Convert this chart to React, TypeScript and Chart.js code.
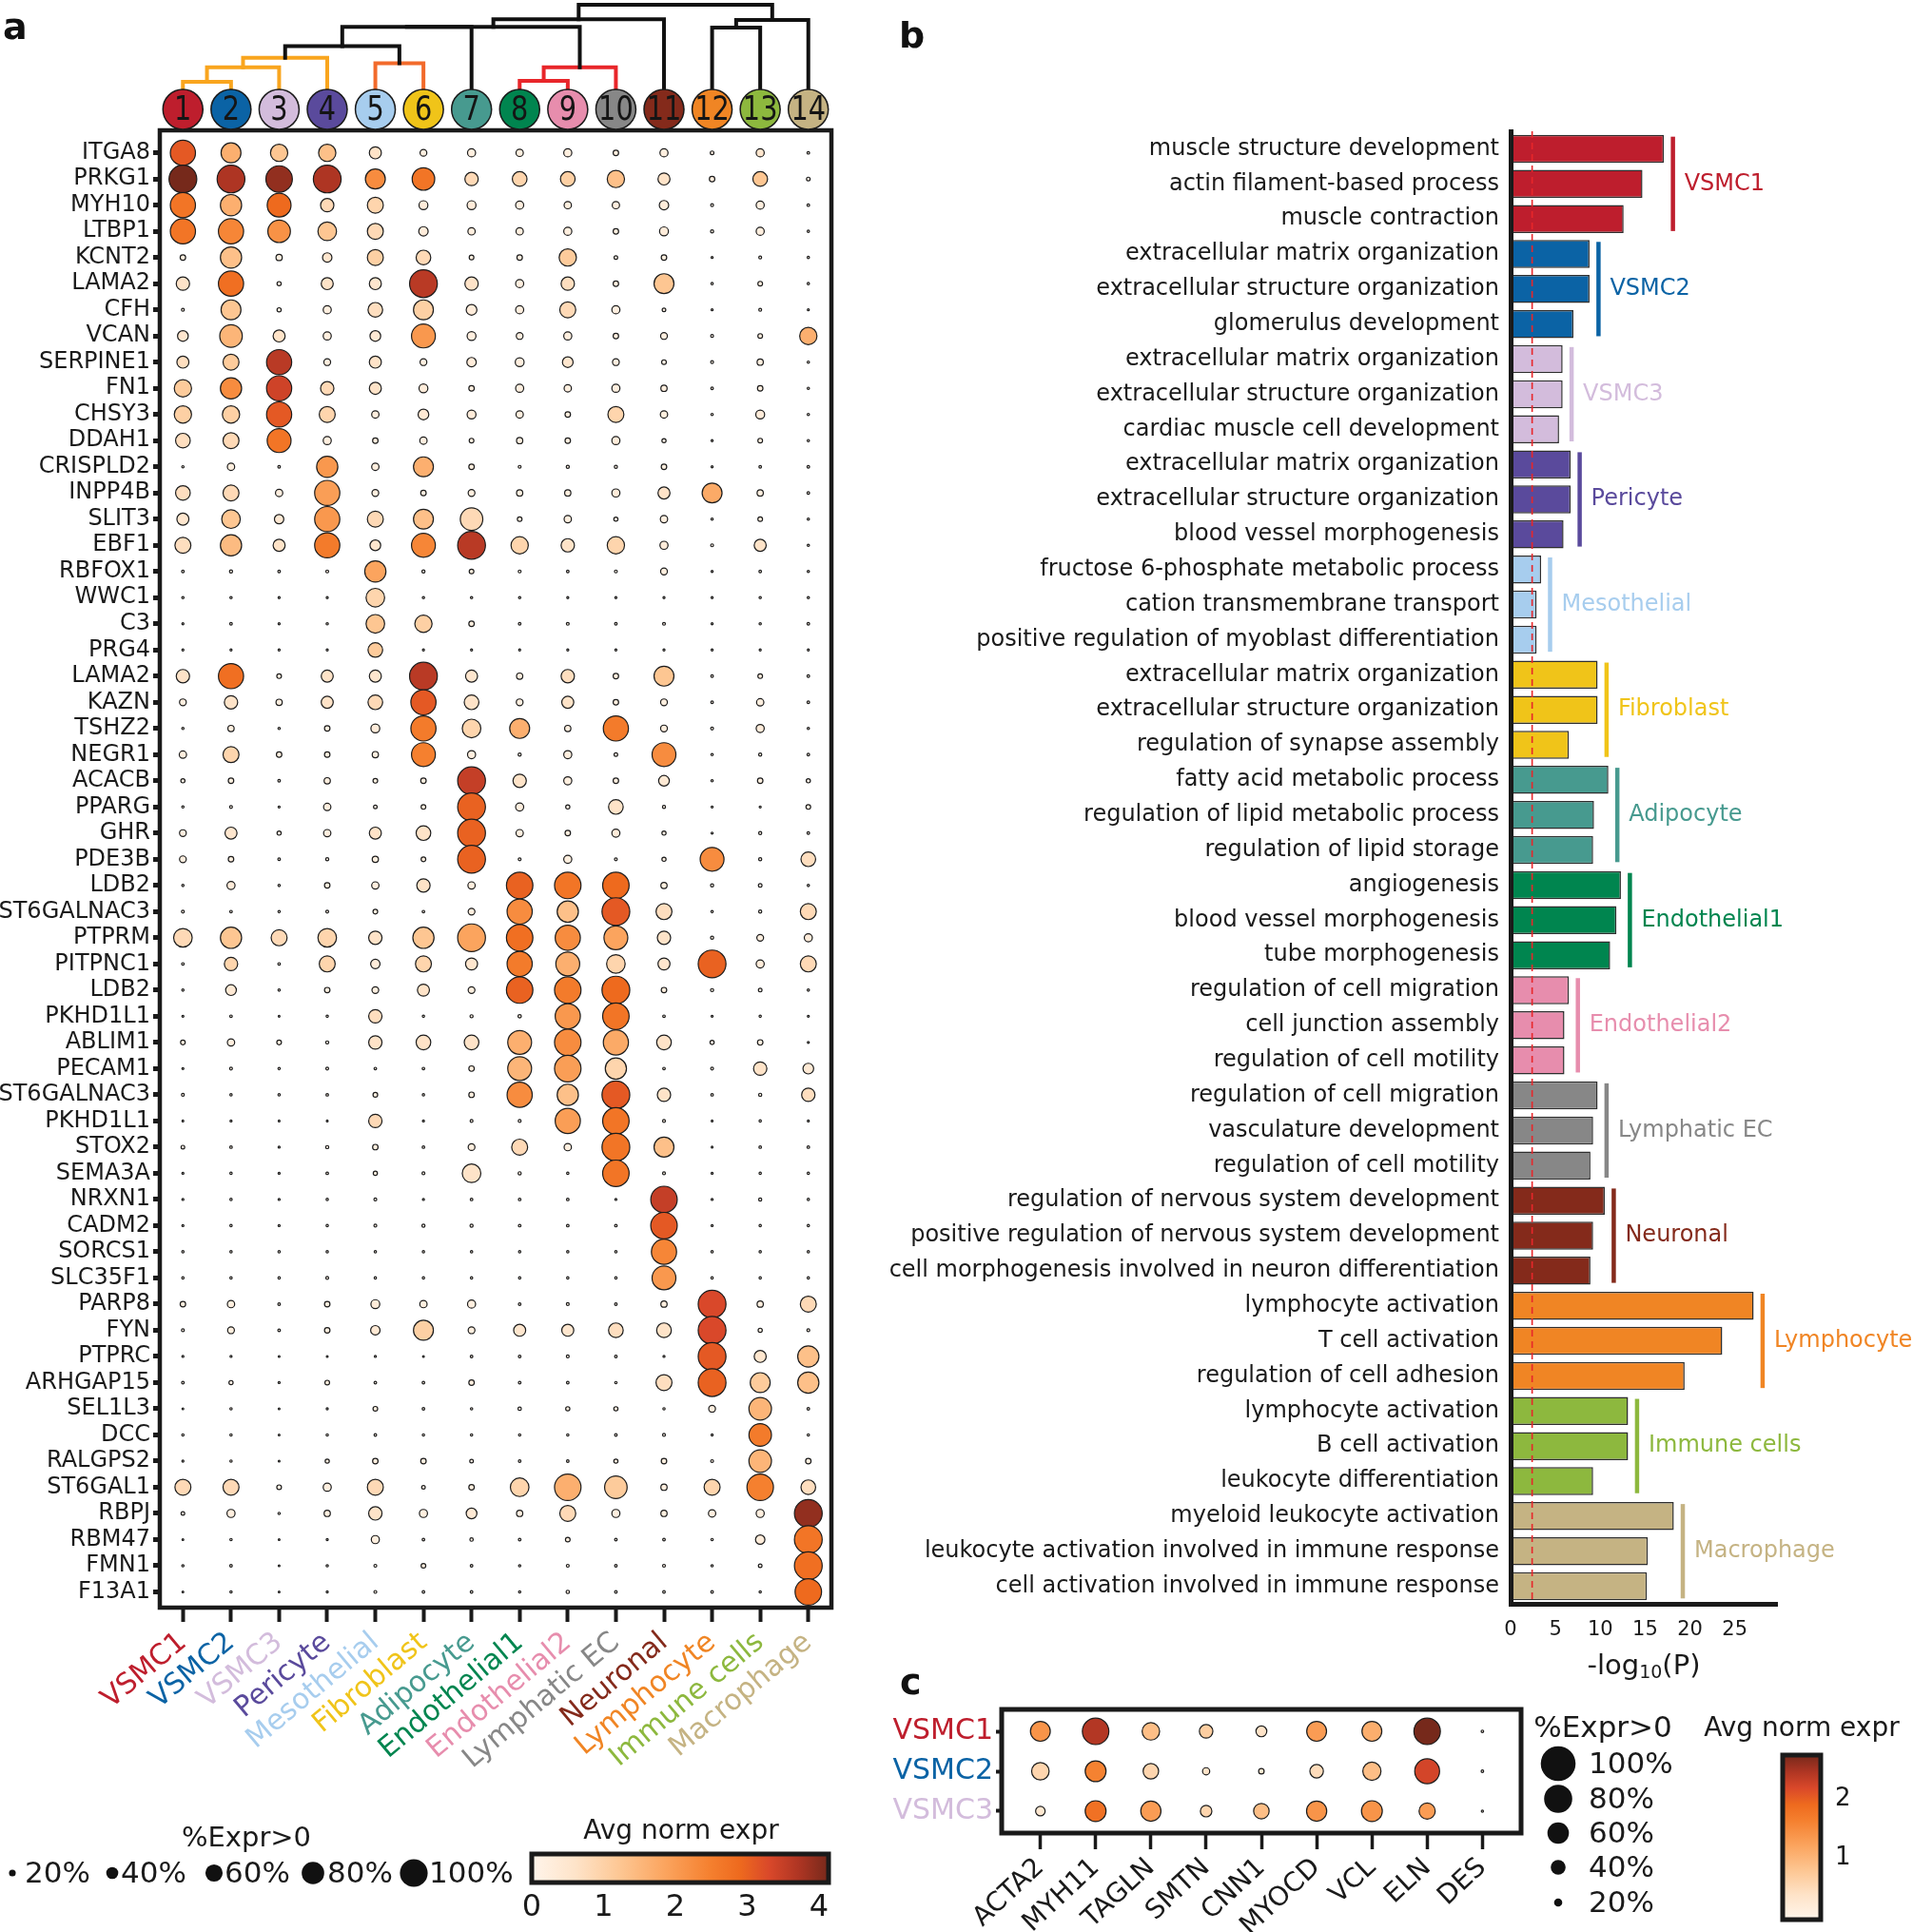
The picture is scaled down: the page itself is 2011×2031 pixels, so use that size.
import React, { useEffect, useRef } from "react";
import { Chart, registerables } from "chart.js";

Chart.register(...registerables);

const FONT = "'DejaVu Sans', Verdana, sans-serif";
const INK = "#1a1a1a";

// ---------------- Panel a data ----------------
const CLUSTERS = ["VSMC1", "VSMC2", "VSMC3", "Pericyte", "Mesothelial", "Fibroblast", "Adipocyte", "Endothelial1", "Endothelial2", "Lymphatic EC", "Neuronal", "Lymphocyte", "Immune cells", "Macrophage"];
const CLUSTER_COLORS = ["#BE1E2D", "#0B63A5", "#D3BCDC", "#5A4A9C", "#A7CDEE", "#F0C419", "#479A8F", "#00854F", "#E78DAD", "#878787", "#842A1B", "#F08524", "#8DB83E", "#C5B383"];

const GENES = ["ITGA8", "PRKG1", "MYH10", "LTBP1", "KCNT2", "LAMA2", "CFH", "VCAN", "SERPINE1", "FN1", "CHSY3", "DDAH1", "CRISPLD2", "INPP4B", "SLIT3", "EBF1", "RBFOX1", "WWC1", "C3", "PRG4", "LAMA2", "KAZN", "TSHZ2", "NEGR1", "ACACB", "PPARG", "GHR", "PDE3B", "LDB2", "ST6GALNAC3", "PTPRM", "PITPNC1", "LDB2", "PKHD1L1", "ABLIM1", "PECAM1", "ST6GALNAC3", "PKHD1L1", "STOX2", "SEMA3A", "NRXN1", "CADM2", "SORCS1", "SLC35F1", "PARP8", "FYN", "PTPRC", "ARHGAP15", "SEL1L3", "DCC", "RALGPS2", "ST6GAL1", "RBPJ", "RBM47", "FMN1", "F13A1"];

// % of cells expressing (per gene row, per cluster column)
const PCT = [
  [90, 70, 60, 60, 40, 20, 25, 22, 25, 15, 25, 8, 25, 4],
  [100, 100, 95, 100, 70, 80, 45, 50, 50, 60, 40, 15, 50, 8],
  [90, 75, 85, 45, 55, 28, 28, 25, 22, 22, 30, 5, 25, 4],
  [90, 90, 80, 65, 55, 30, 22, 22, 25, 15, 28, 6, 25, 3],
  [15, 75, 18, 30, 55, 50, 12, 15, 60, 8, 15, 2, 5, 3],
  [45, 90, 10, 40, 40, 100, 45, 25, 45, 15, 70, 3, 12, 3],
  [5, 70, 10, 25, 50, 70, 35, 25, 55, 25, 8, 2, 5, 2],
  [35, 80, 40, 25, 35, 85, 28, 20, 25, 15, 20, 5, 12, 60],
  [40, 55, 90, 20, 40, 20, 30, 28, 35, 20, 12, 5, 18, 3],
  [60, 75, 90, 45, 40, 28, 15, 25, 22, 25, 18, 4, 15, 3],
  [60, 60, 90, 55, 22, 35, 28, 22, 15, 55, 22, 3, 28, 3],
  [50, 55, 85, 25, 15, 22, 12, 18, 15, 25, 10, 2, 12, 3],
  [3, 22, 4, 75, 22, 70, 15, 5, 6, 6, 15, 2, 4, 4],
  [50, 55, 22, 90, 20, 15, 20, 18, 18, 25, 40, 70, 18, 4],
  [40, 65, 30, 90, 55, 70, 80, 12, 22, 10, 22, 3, 12, 3],
  [55, 75, 40, 90, 35, 85, 100, 60, 45, 60, 25, 5, 40, 3],
  [4, 6, 4, 5, 75, 6, 12, 5, 4, 5, 20, 2, 4, 3],
  [3, 3, 2, 2, 65, 3, 3, 3, 2, 2, 2, 2, 3, 3],
  [2, 4, 2, 3, 65, 60, 15, 4, 5, 4, 5, 2, 3, 4],
  [2, 2, 2, 2, 50, 2, 2, 2, 2, 2, 2, 2, 2, 2],
  [45, 90, 12, 40, 40, 100, 40, 18, 45, 15, 70, 4, 12, 4],
  [20, 45, 18, 40, 50, 90, 50, 20, 40, 15, 20, 4, 22, 4],
  [3, 18, 3, 15, 28, 90, 65, 70, 18, 90, 20, 5, 25, 3],
  [22, 55, 15, 15, 18, 85, 25, 6, 25, 8, 85, 3, 6, 4],
  [10, 15, 4, 18, 12, 15, 100, 45, 25, 15, 35, 3, 15, 10],
  [3, 5, 2, 22, 8, 12, 100, 25, 10, 50, 6, 2, 2, 12],
  [20, 40, 10, 22, 40, 50, 100, 22, 15, 25, 10, 2, 6, 4],
  [20, 15, 4, 6, 18, 12, 100, 5, 25, 5, 10, 85, 6, 50],
  [3, 25, 3, 15, 22, 45, 22, 95, 95, 95, 18, 6, 8, 3],
  [5, 4, 3, 5, 12, 4, 20, 90, 75, 100, 55, 3, 6, 55],
  [65, 75, 55, 65, 45, 75, 100, 95, 90, 85, 45, 6, 20, 25],
  [4, 45, 4, 55, 30, 55, 40, 90, 85, 65, 40, 100, 25, 55],
  [3, 35, 3, 15, 20, 40, 20, 95, 95, 100, 15, 6, 8, 3],
  [2, 4, 1, 3, 45, 3, 6, 7, 90, 95, 4, 2, 3, 2],
  [12, 22, 12, 6, 45, 50, 50, 85, 95, 90, 50, 10, 15, 2],
  [2, 5, 3, 5, 4, 4, 15, 85, 95, 75, 4, 5, 45, 35],
  [5, 3, 3, 4, 12, 3, 15, 90, 75, 100, 45, 4, 6, 45],
  [1, 2, 1, 1, 45, 2, 5, 5, 90, 95, 5, 1, 3, 2],
  [8, 4, 2, 6, 15, 4, 20, 55, 22, 100, 70, 1, 4, 4],
  [2, 3, 2, 4, 10, 5, 65, 6, 3, 95, 5, 2, 3, 3],
  [2, 3, 2, 3, 5, 2, 4, 4, 4, 2, 95, 2, 6, 3],
  [2, 3, 2, 3, 5, 6, 6, 4, 4, 4, 95, 2, 3, 3],
  [3, 3, 3, 3, 3, 3, 3, 3, 3, 3, 90, 3, 3, 3],
  [3, 3, 3, 5, 3, 3, 3, 3, 3, 3, 85, 3, 3, 3],
  [15, 22, 4, 15, 28, 22, 25, 4, 5, 4, 18, 100, 18, 55],
  [5, 20, 4, 15, 30, 70, 20, 40, 40, 50, 50, 100, 10, 5],
  [2, 2, 1, 1, 2, 1, 4, 4, 5, 4, 2, 100, 40, 75],
  [4, 10, 2, 12, 4, 4, 15, 4, 4, 3, 55, 100, 70, 75],
  [1, 3, 1, 2, 12, 4, 3, 7, 10, 10, 3, 20, 80, 4],
  [3, 3, 1, 3, 4, 3, 3, 3, 3, 4, 5, 2, 80, 3],
  [2, 3, 1, 10, 15, 15, 8, 4, 4, 10, 15, 5, 80, 15],
  [55, 55, 12, 25, 55, 8, 15, 65, 95, 80, 18, 55, 95, 50],
  [8, 25, 3, 18, 45, 25, 35, 18, 55, 25, 18, 22, 25, 100],
  [1, 3, 1, 2, 25, 4, 7, 4, 12, 4, 4, 3, 30, 100],
  [3, 4, 1, 3, 5, 12, 4, 3, 5, 4, 5, 3, 8, 100],
  [1, 3, 1, 2, 5, 4, 4, 3, 7, 4, 4, 4, 3, 95],
];

// average normalised expression (0-4)
const EXPR = [
  [3.0, 1.6, 1.2, 1.3, 0.6, 0.2, 0.2, 0.2, 0.2, 0.2, 0.2, 0.1, 0.5, 0.1],
  [4.0, 3.6, 3.8, 3.6, 2.2, 2.6, 0.8, 0.9, 1.0, 1.3, 0.6, 0.2, 1.2, 0.1],
  [2.6, 1.6, 2.8, 0.8, 0.9, 0.3, 0.3, 0.2, 0.2, 0.2, 0.3, 0.1, 0.2, 0.1],
  [2.6, 2.3, 2.1, 1.2, 0.8, 0.3, 0.2, 0.2, 0.2, 0.2, 0.3, 0.1, 0.2, 0.1],
  [0.2, 1.3, 0.2, 0.5, 1.0, 0.8, 0.2, 0.2, 1.1, 0.1, 0.2, 0.1, 0.1, 0.1],
  [0.6, 2.7, 0.2, 0.6, 0.5, 3.5, 0.6, 0.2, 0.7, 0.2, 1.2, 0.1, 0.2, 0.1],
  [0.1, 1.2, 0.1, 0.2, 0.7, 1.0, 0.3, 0.2, 0.8, 0.2, 0.1, 0.1, 0.1, 0.1],
  [0.5, 1.5, 0.6, 0.2, 0.4, 2.0, 0.2, 0.2, 0.2, 0.2, 0.2, 0.1, 0.2, 1.6],
  [0.7, 1.1, 3.5, 0.2, 0.6, 0.2, 0.3, 0.2, 0.5, 0.2, 0.1, 0.1, 0.2, 0.1],
  [1.1, 2.2, 3.3, 0.8, 0.6, 0.3, 0.2, 0.2, 0.2, 0.2, 0.2, 0.1, 0.2, 0.1],
  [1.0, 1.0, 3.0, 0.9, 0.2, 0.4, 0.3, 0.2, 0.2, 0.9, 0.2, 0.1, 0.3, 0.1],
  [0.7, 0.8, 2.6, 0.2, 0.2, 0.2, 0.2, 0.2, 0.2, 0.3, 0.1, 0.1, 0.2, 0.1],
  [0.1, 0.2, 0.1, 2.0, 0.2, 1.6, 0.2, 0.1, 0.1, 0.1, 0.2, 0.1, 0.1, 0.1],
  [0.7, 0.8, 0.2, 1.9, 0.2, 0.2, 0.2, 0.2, 0.2, 0.3, 0.6, 1.7, 0.2, 0.1],
  [0.5, 1.2, 0.4, 2.0, 0.8, 1.3, 0.8, 0.2, 0.2, 0.1, 0.2, 0.1, 0.2, 0.1],
  [0.7, 1.4, 0.6, 2.5, 0.5, 2.3, 3.5, 0.9, 0.6, 0.9, 0.3, 0.1, 0.6, 0.1],
  [0.1, 0.1, 0.1, 0.1, 1.8, 0.1, 0.2, 0.1, 0.1, 0.1, 0.2, 0.1, 0.1, 0.1],
  [0.1, 0.1, 0.1, 0.1, 0.9, 0.1, 0.1, 0.1, 0.1, 0.1, 0.1, 0.1, 0.1, 0.1],
  [0.1, 0.1, 0.1, 0.1, 1.2, 1.0, 0.2, 0.1, 0.1, 0.1, 0.1, 0.1, 0.1, 0.1],
  [0.1, 0.1, 0.1, 0.1, 1.1, 0.1, 0.1, 0.1, 0.1, 0.1, 0.1, 0.1, 0.1, 0.1],
  [0.6, 2.7, 0.2, 0.6, 0.5, 3.5, 0.5, 0.2, 0.7, 0.2, 1.2, 0.1, 0.2, 0.1],
  [0.2, 0.6, 0.2, 0.6, 0.8, 3.0, 0.6, 0.2, 0.6, 0.2, 0.2, 0.1, 0.2, 0.1],
  [0.1, 0.2, 0.1, 0.2, 0.3, 2.5, 0.9, 1.6, 0.2, 2.5, 0.2, 0.1, 0.3, 0.1],
  [0.2, 0.9, 0.2, 0.2, 0.2, 2.4, 0.2, 0.1, 0.2, 0.1, 2.2, 0.1, 0.1, 0.1],
  [0.1, 0.2, 0.1, 0.2, 0.2, 0.2, 3.4, 0.6, 0.2, 0.2, 0.4, 0.1, 0.2, 0.1],
  [0.1, 0.1, 0.1, 0.2, 0.1, 0.2, 2.9, 0.2, 0.1, 0.6, 0.1, 0.1, 0.1, 0.2],
  [0.2, 0.5, 0.1, 0.2, 0.6, 0.6, 2.9, 0.2, 0.2, 0.3, 0.1, 0.1, 0.1, 0.1],
  [0.2, 0.2, 0.1, 0.1, 0.2, 0.2, 2.9, 0.1, 0.2, 0.1, 0.1, 2.2, 0.1, 0.7],
  [0.1, 0.3, 0.1, 0.2, 0.2, 0.6, 0.2, 2.9, 2.6, 2.8, 0.2, 0.1, 0.1, 0.1],
  [0.1, 0.1, 0.1, 0.1, 0.2, 0.1, 0.2, 2.2, 1.3, 3.0, 0.7, 0.1, 0.1, 0.8],
  [0.8, 1.2, 0.8, 0.9, 0.6, 1.2, 1.8, 2.7, 2.2, 1.8, 0.6, 0.1, 0.2, 0.3],
  [0.1, 0.9, 0.1, 0.9, 0.3, 0.9, 0.5, 2.5, 1.6, 0.9, 0.5, 2.9, 0.3, 0.8],
  [0.1, 0.4, 0.1, 0.2, 0.2, 0.6, 0.2, 2.9, 2.5, 2.8, 0.2, 0.1, 0.1, 0.1],
  [0.1, 0.1, 0.1, 0.1, 0.7, 0.1, 0.1, 0.1, 2.0, 2.6, 0.1, 0.1, 0.1, 0.1],
  [0.2, 0.2, 0.2, 0.1, 0.6, 0.6, 0.6, 1.6, 2.2, 1.7, 0.6, 0.1, 0.2, 0.1],
  [0.1, 0.1, 0.1, 0.1, 0.1, 0.1, 0.2, 1.5, 1.9, 0.9, 0.1, 0.1, 0.6, 0.4],
  [0.1, 0.1, 0.1, 0.1, 0.2, 0.1, 0.2, 2.2, 1.3, 3.0, 0.6, 0.1, 0.1, 0.7],
  [0.1, 0.1, 0.1, 0.1, 0.8, 0.1, 0.1, 0.1, 1.9, 2.6, 0.1, 0.1, 0.1, 0.1],
  [0.1, 0.1, 0.1, 0.1, 0.2, 0.1, 0.2, 0.8, 0.2, 2.6, 1.3, 0.1, 0.1, 0.1],
  [0.1, 0.1, 0.1, 0.1, 0.2, 0.1, 0.6, 0.1, 0.1, 2.6, 0.1, 0.1, 0.1, 0.1],
  [0.1, 0.1, 0.1, 0.1, 0.1, 0.1, 0.1, 0.1, 0.1, 0.1, 3.4, 0.1, 0.1, 0.1],
  [0.1, 0.1, 0.1, 0.1, 0.1, 0.1, 0.1, 0.1, 0.1, 0.1, 3.0, 0.1, 0.1, 0.1],
  [0.1, 0.1, 0.1, 0.1, 0.1, 0.1, 0.1, 0.1, 0.1, 0.1, 2.3, 0.1, 0.1, 0.1],
  [0.1, 0.1, 0.1, 0.1, 0.1, 0.1, 0.1, 0.1, 0.1, 0.1, 2.0, 0.1, 0.1, 0.1],
  [0.2, 0.2, 0.1, 0.2, 0.3, 0.2, 0.2, 0.1, 0.1, 0.1, 0.2, 3.2, 0.2, 0.8],
  [0.1, 0.2, 0.1, 0.2, 0.4, 1.0, 0.2, 0.5, 0.5, 0.7, 0.6, 3.2, 0.1, 0.1],
  [0.1, 0.1, 0.1, 0.1, 0.1, 0.1, 0.1, 0.1, 0.1, 0.1, 0.1, 3.0, 0.5, 1.3],
  [0.1, 0.1, 0.1, 0.2, 0.1, 0.1, 0.2, 0.1, 0.1, 0.1, 0.7, 2.9, 1.1, 1.3],
  [0.1, 0.1, 0.1, 0.1, 0.2, 0.1, 0.1, 0.1, 0.2, 0.2, 0.1, 0.2, 1.5, 0.1],
  [0.1, 0.1, 0.1, 0.1, 0.1, 0.1, 0.1, 0.1, 0.1, 0.1, 0.1, 0.1, 2.5, 0.1],
  [0.1, 0.1, 0.1, 0.2, 0.2, 0.2, 0.1, 0.1, 0.1, 0.2, 0.2, 0.1, 1.5, 0.2],
  [0.8, 0.8, 0.2, 0.2, 0.8, 0.1, 0.2, 0.9, 1.6, 1.1, 0.2, 0.9, 2.4, 0.7],
  [0.1, 0.2, 0.1, 0.2, 0.6, 0.2, 0.4, 0.2, 0.8, 0.2, 0.2, 0.2, 0.2, 3.8],
  [0.1, 0.1, 0.1, 0.1, 0.2, 0.1, 0.1, 0.1, 0.2, 0.1, 0.1, 0.1, 0.3, 2.6],
  [0.1, 0.1, 0.1, 0.1, 0.1, 0.2, 0.1, 0.1, 0.1, 0.1, 0.1, 0.1, 0.1, 2.7],
  [0.1, 0.1, 0.1, 0.1, 0.1, 0.1, 0.1, 0.1, 0.1, 0.1, 0.1, 0.1, 0.1, 2.8],
];
const EXPR_MAX_A = 4;
const SIZE_LEGEND_A = [20, 40, 60, 80, 100];
const COLOR_TICKS_A = [0, 1, 2, 3, 4];

// dendrogram: merges of nodes (0-13 leaves, 14.. merged nodes), with heights 0-1
const DENDRO_LEFT = [0, 14, 15, 4, 16, 7, 19, 18, 21, 22, 11, 24, 23];
const DENDRO_RIGHT = [1, 2, 3, 5, 17, 8, 9, 6, 20, 10, 12, 13, 25];
const DENDRO_HEIGHT = [0.09, 0.26, 0.375, 0.31, 0.51, 0.1, 0.26, 0.74, 0.74, 0.83, 0.73, 0.82, 1.0];
const DENDRO_COLOR = ["#F9A51E", "#F9A51E", "#F9A51E", "#F26A2B", "#111111", "#E8262A", "#E8262A", "#111111", "#111111", "#111111", "#111111", "#111111", "#111111"];

// ---------------- Panel b data ----------------
const TERMS = [
  "muscle structure development", "actin filament-based process", "muscle contraction",
  "extracellular matrix organization", "extracellular structure organization", "glomerulus development",
  "extracellular matrix organization", "extracellular structure organization", "cardiac muscle cell development",
  "extracellular matrix organization", "extracellular structure organization", "blood vessel morphogenesis",
  "fructose 6-phosphate metabolic process", "cation transmembrane transport", "positive regulation of myoblast differentiation",
  "extracellular matrix organization", "extracellular structure organization", "regulation of synapse assembly",
  "fatty acid metabolic process", "regulation of lipid metabolic process", "regulation of lipid storage",
  "angiogenesis", "blood vessel morphogenesis", "tube morphogenesis",
  "regulation of cell migration", "cell junction assembly", "regulation of cell motility",
  "regulation of cell migration", "vasculature development", "regulation of cell motility",
  "regulation of nervous system development", "positive regulation of nervous system development", "cell morphogenesis involved in neuron differentiation",
  "lymphocyte activation", "T cell activation", "regulation of cell adhesion",
  "lymphocyte activation", "B cell activation", "leukocyte differentiation",
  "myeloid leukocyte activation", "leukocyte activation involved in immune response", "cell activation involved in immune response",
];
const NEG_LOG_P = [
  17.1, 14.7, 12.6, 8.8, 8.8, 7.0, 5.8, 5.8, 5.4, 6.7, 6.7, 5.9, 3.4, 2.9, 2.9,
  9.7, 9.7, 6.5, 10.9, 9.3, 9.2, 12.3, 11.8, 11.1, 6.5, 6.0, 6.0, 9.7, 9.2, 8.9,
  10.5, 9.2, 8.9, 27.1, 23.6, 19.4, 13.1, 13.1, 9.2, 18.2, 15.3, 15.2,
];
const THRESHOLD_B = 2.4;
const X_MAX_B = 29.7;

// ---------------- Panel c data ----------------
const C_ROWS = ["VSMC1", "VSMC2", "VSMC3"];
const C_GENES = ["ACTA2", "MYH11", "TAGLN", "SMTN", "CNN1", "MYOCD", "VCL", "ELN", "DES"];
const C_PCT = [
  [55, 75, 48, 36, 28, 55, 55, 75, 3],
  [48, 58, 42, 17, 12, 36, 50, 70, 3],
  [24, 58, 56, 30, 42, 56, 58, 44, 2],
];
const C_EXPR = [
  [1.4, 2.4, 0.9, 0.7, 0.4, 1.3, 1.1, 2.7, 0.1],
  [0.6, 1.6, 0.6, 0.4, 0.3, 0.5, 0.9, 2.2, 0.1],
  [0.3, 1.8, 1.3, 0.6, 0.9, 1.4, 1.4, 1.3, 0.1],
];
const EXPR_MAX_C = 2.7;
const SIZE_LEGEND_C = [100, 80, 60, 40, 20];
const COLOR_TICKS_C = [1, 2];

// ---------------- colour map ----------------
const CMAP_STOPS = [0, 0.15, 0.3, 0.45, 0.6, 0.7, 0.8, 0.9, 1];
const CMAP_COLORS = ["#FFF5EB", "#FEE3C8", "#FDC692", "#FBA45E", "#F5802F", "#EE6A1E", "#D9482A", "#AE3523", "#76291B"];

function hexToRgb(h: string) {
  return [parseInt(h.slice(1, 3), 16), parseInt(h.slice(3, 5), 16), parseInt(h.slice(5, 7), 16)];
}
function cmap(t: number) {
  const v = Math.max(0, Math.min(1, t));
  for (let i = 1; i < CMAP_STOPS.length; i++) {
    if (v <= CMAP_STOPS[i]) {
      const f = (v - CMAP_STOPS[i - 1]) / (CMAP_STOPS[i] - CMAP_STOPS[i - 1]);
      const a = hexToRgb(CMAP_COLORS[i - 1]);
      const b = hexToRgb(CMAP_COLORS[i]);
      return `rgb(${Math.round(a[0] + (b[0] - a[0]) * f)},${Math.round(a[1] + (b[1] - a[1]) * f)},${Math.round(a[2] + (b[2] - a[2]) * f)})`;
    }
  }
  return CMAP_COLORS[CMAP_COLORS.length - 1];
}
const rA = (p: number) => 0.8 + (13.8 * p) / 100;
const rC = (p: number) => 0.8 + (17.5 * p) / 100;

// ---------------- Panel a plugin ----------------
const panelAPlugin = {
  id: "panelA",
  afterDraw(chart: any) {
    const { ctx, chartArea: ca } = chart;
    const xs = chart.scales.x;
    ctx.save();
    // frame
    ctx.lineWidth = 4.5;
    ctx.strokeStyle = INK;
    ctx.strokeRect(ca.left, ca.top, ca.right - ca.left, ca.bottom - ca.top);

    // dendrogram
    const leafY = 115;
    const nx: number[] = CLUSTERS.map((_, i) => xs.getPixelForValue(i));
    const nh: number[] = CLUSTERS.map(() => -1);
    const yOf = (h: number) => (h < 0 ? leafY : 94 - h * 89);
    ctx.lineWidth = 4;
    ctx.lineCap = "square";
    ctx.lineJoin = "miter";
    for (let m = 0; m < DENDRO_LEFT.length; m++) {
      const a = DENDRO_LEFT[m];
      const b = DENDRO_RIGHT[m];
      const y = yOf(DENDRO_HEIGHT[m]);
      ctx.strokeStyle = DENDRO_COLOR[m];
      ctx.beginPath();
      ctx.moveTo(nx[a], yOf(nh[a]));
      ctx.lineTo(nx[a], y);
      ctx.lineTo(nx[b], y);
      ctx.lineTo(nx[b], yOf(nh[b]));
      ctx.stroke();
      nx.push((nx[a] + nx[b]) / 2);
      nh.push(DENDRO_HEIGHT[m]);
    }
    // numbered cluster circles
    CLUSTERS.forEach((_, i) => {
      const cx = xs.getPixelForValue(i);
      ctx.beginPath();
      ctx.arc(cx, leafY, 21, 0, Math.PI * 2);
      ctx.fillStyle = CLUSTER_COLORS[i];
      ctx.fill();
      ctx.lineWidth = 1.5;
      ctx.strokeStyle = INK;
      ctx.stroke();
      ctx.save();
      ctx.translate(cx, leafY + 2);
      ctx.scale(0.8, 1);
      ctx.font = `36px ${FONT}`;
      ctx.fillStyle = "#151515";
      ctx.textAlign = "center";
      ctx.textBaseline = "middle";
      ctx.fillText(String(i + 1), 0, 0);
      ctx.restore();
    });

    // panel label
    ctx.fillStyle = "#111";
    ctx.font = `bold 38px ${FONT}`;
    ctx.textAlign = "left";
    ctx.textBaseline = "alphabetic";
    ctx.fillText("a", 3, 41);

    // size legend
    ctx.textBaseline = "middle";
    ctx.textAlign = "center";
    ctx.font = `29px ${FONT}`;
    ctx.fillStyle = INK;
    ctx.fillText("%Expr>0", 259, 1933);
    const dotX = [13, 118, 225, 329, 435];
    const txtX = [26, 127, 236, 344, 451];
    SIZE_LEGEND_A.forEach((p, i) => {
      ctx.beginPath();
      ctx.arc(dotX[i], 1969, rA(p), 0, Math.PI * 2);
      ctx.fillStyle = "#111";
      ctx.fill();
      ctx.textAlign = "left";
      ctx.font = `31px ${FONT}`;
      ctx.fillStyle = INK;
      ctx.fillText(`${p}%`, txtX[i], 1971);
    });

    // colour bar
    ctx.textAlign = "center";
    ctx.font = `28px ${FONT}`;
    ctx.fillText("Avg norm expr", 716, 1926);
    const L = 559, R = 871, T = 1949, B = 1979;
    const g = ctx.createLinearGradient(L, 0, R, 0);
    CMAP_STOPS.forEach((s, i) => g.addColorStop(s, CMAP_COLORS[i]));
    ctx.fillStyle = g;
    ctx.fillRect(L, T, R - L, B - T);
    ctx.lineWidth = 5;
    ctx.strokeStyle = INK;
    ctx.strokeRect(L, T, R - L, B - T);
    ctx.font = `32px ${FONT}`;
    ctx.fillStyle = INK;
    COLOR_TICKS_A.forEach((v) => {
      ctx.fillText(String(v), 559 + (v / EXPR_MAX_A) * 302, 2006);
    });
    ctx.restore();
  },
};

// ---------------- Panel b plugin ----------------
const panelBPlugin = {
  id: "panelB",
  afterDatasetsDraw(chart: any) {
    const { ctx, chartArea: ca } = chart;
    const x = chart.scales.x;
    const y = chart.scales.y;
    ctx.save();
    const tx = x.getPixelForValue(THRESHOLD_B);
    ctx.strokeStyle = "#E8262A";
    ctx.lineWidth = 1.6;
    ctx.setLineDash([7, 5]);
    ctx.beginPath();
    ctx.moveTo(tx, ca.top);
    ctx.lineTo(tx, ca.bottom);
    ctx.stroke();
    ctx.setLineDash([]);

    const slot = (ca.bottom - ca.top) / TERMS.length;
    CLUSTERS.forEach((name, gi) => {
      const vals = NEG_LOG_P.slice(gi * 3, gi * 3 + 3);
      const lx = x.getPixelForValue(Math.max(...vals) + 1);
      const y0 = y.getPixelForValue(gi * 3) - slot * 0.4 + 2;
      const y1 = y.getPixelForValue(gi * 3 + 2) + slot * 0.4 - 2;
      ctx.strokeStyle = CLUSTER_COLORS[gi];
      ctx.lineWidth = 4.5;
      ctx.beginPath();
      ctx.moveTo(lx, y0);
      ctx.lineTo(lx, y1);
      ctx.stroke();
      ctx.fillStyle = CLUSTER_COLORS[gi];
      ctx.font = `24px ${FONT}`;
      ctx.textAlign = "left";
      ctx.textBaseline = "middle";
      ctx.fillText(name, lx + 12, y.getPixelForValue(gi * 3 + 1));
    });
    ctx.restore();
  },
  afterDraw(chart: any) {
    const { ctx, chartArea: ca } = chart;
    ctx.save();
    ctx.fillStyle = INK;
    ctx.textBaseline = "middle";
    ctx.textAlign = "left";
    const big = `29px ${FONT}`;
    const small = `19px ${FONT}`;
    ctx.font = big;
    const w1 = ctx.measureText("-log").width;
    const w3 = ctx.measureText("(P)").width;
    ctx.font = small;
    const w2 = ctx.measureText("10").width;
    const cx = (ca.left + ca.right) / 2;
    let sx = cx - (w1 + w2 + w3) / 2;
    const ty = 1752;
    ctx.font = big;
    ctx.fillText("-log", sx, ty);
    sx += w1;
    ctx.font = small;
    ctx.fillText("10", sx, ty + 7);
    sx += w2;
    ctx.font = big;
    ctx.fillText("(P)", sx, ty);

    ctx.fillStyle = "#111";
    ctx.font = `bold 38px ${FONT}`;
    ctx.textBaseline = "alphabetic";
    ctx.fillText("b", 45, 50);
    ctx.restore();
  },
};

// ---------------- Panel c plugin ----------------
const panelCPlugin = {
  id: "panelC",
  afterDraw(chart: any) {
    const { ctx, chartArea: ca } = chart;
    ctx.save();
    ctx.lineWidth = 5;
    ctx.strokeStyle = INK;
    ctx.strokeRect(ca.left, ca.top, ca.right - ca.left, ca.bottom - ca.top);

    ctx.fillStyle = "#111";
    ctx.font = `bold 38px ${FONT}`;
    ctx.textAlign = "left";
    ctx.textBaseline = "alphabetic";
    ctx.fillText("c", 46, 41);

    ctx.fillStyle = INK;
    ctx.textBaseline = "middle";
    ctx.textAlign = "center";
    ctx.font = `31px ${FONT}`;
    ctx.fillText("%Expr>0", 785, 78);
    const ys = [114, 151, 187, 223, 260];
    SIZE_LEGEND_C.forEach((p, i) => {
      ctx.beginPath();
      ctx.arc(738, ys[i], rC(p), 0, Math.PI * 2);
      ctx.fillStyle = "#111";
      ctx.fill();
      ctx.fillStyle = INK;
      ctx.textAlign = "left";
      ctx.font = `31px ${FONT}`;
      ctx.fillText(`${p}%`, 770, ys[i] + 2);
    });

    ctx.textAlign = "center";
    ctx.font = `28px ${FONT}`;
    ctx.fillText("Avg norm expr", 994, 78);
    const L = 974, R = 1014, T = 105, B = 278;
    const g = ctx.createLinearGradient(0, B, 0, T);
    CMAP_STOPS.forEach((s, i) => g.addColorStop(s, CMAP_COLORS[i]));
    ctx.fillStyle = g;
    ctx.fillRect(L, T, R - L, B - T);
    ctx.lineWidth = 5;
    ctx.strokeStyle = INK;
    ctx.strokeRect(L, T, R - L, B - T);
    ctx.fillStyle = INK;
    ctx.textAlign = "left";
    ctx.font = `26px ${FONT}`;
    COLOR_TICKS_C.forEach((v) => {
      ctx.fillText(String(v), 1029, 275 - (v / EXPR_MAX_C) * 167);
    });
    ctx.restore();
  },
};

// ---------------- chart builders ----------------
function makeA(canvas: HTMLCanvasElement) {
  const pts: any[] = [];
  const bg: string[] = [];
  GENES.forEach((_, gi) => {
    CLUSTERS.forEach((__, ci) => {
      pts.push({ x: ci, y: gi, r: rA(PCT[gi][ci]) });
      bg.push(cmap(EXPR[gi][ci] / EXPR_MAX_A));
    });
  });
  return new Chart(canvas, {
    type: "bubble",
    data: { datasets: [{ data: pts, backgroundColor: bg, borderColor: "#1c1c1c", borderWidth: 1.2 }] },
    options: {
      responsive: false,
      animation: false,
      events: [],
      layout: { padding: { left: 0, right: 26, top: 137, bottom: 141 } },
      plugins: { legend: { display: false }, tooltip: { enabled: false } },
      scales: {
        x: {
          type: "linear",
          position: "bottom",
          min: -0.48,
          max: 13.48,
          afterBuildTicks: (s: any) => {
            s.ticks = CLUSTERS.map((_, i) => ({ value: i }));
          },
          afterFit: (s: any) => {
            s.height = 200;
          },
          grid: { drawOnChartArea: false, drawTicks: true, tickLength: 15, tickWidth: 4, tickColor: INK },
          border: { display: false },
          ticks: {
            autoSkip: false,
            minRotation: 40,
            maxRotation: 40,
            padding: 4,
            font: { family: FONT, size: 30 },
            color: (c: any) => CLUSTER_COLORS[c.index],
            callback: (v: any) => CLUSTERS[v],
          },
        },
        y: {
          type: "linear",
          reverse: true,
          min: -0.86,
          max: 55.6,
          afterBuildTicks: (s: any) => {
            s.ticks = GENES.map((_, i) => ({ value: i }));
          },
          afterFit: (s: any) => {
            s.width = 168;
          },
          grid: { drawOnChartArea: false, drawTicks: true, tickLength: 7, tickWidth: 5, tickColor: INK },
          border: { display: false },
          ticks: {
            autoSkip: false,
            padding: 3,
            font: { family: FONT, size: 24 },
            color: INK,
            callback: (v: any) => GENES[v],
          },
        },
      },
    } as any,
    plugins: [panelAPlugin],
  });
}

function makeB(canvas: HTMLCanvasElement) {
  return new Chart(canvas, {
    type: "bar",
    data: {
      labels: TERMS,
      datasets: [
        {
          data: NEG_LOG_P,
          backgroundColor: TERMS.map((_, i) => CLUSTER_COLORS[Math.floor(i / 3)]),
          borderColor: "#2e2e2e",
          borderWidth: 1.5,
          borderSkipped: false,
          barPercentage: 0.8,
          categoryPercentage: 1,
        },
      ],
    },
    options: {
      indexAxis: "y",
      responsive: false,
      animation: false,
      events: [],
      layout: { padding: { left: 0, right: 143, top: 138, bottom: 0 } },
      plugins: { legend: { display: false }, tooltip: { enabled: false } },
      scales: {
        x: {
          type: "linear",
          min: 0,
          max: X_MAX_B,
          afterFit: (s: any) => {
            s.height = 104;
          },
          grid: { display: false, drawTicks: false },
          border: { display: true, width: 5, color: INK, z: 1 },
          ticks: { stepSize: 5, includeBounds: false, padding: 15, font: { family: FONT, size: 21 }, color: INK },
        },
        y: {
          afterFit: (s: any) => {
            s.width = 688;
          },
          grid: { display: false, drawTicks: false },
          border: { display: true, width: 5, color: INK, z: 1 },
          ticks: { autoSkip: false, padding: 12, font: { family: FONT, size: 24 }, color: INK },
        },
      },
    } as any,
    plugins: [panelBPlugin],
  });
}

function makeC(canvas: HTMLCanvasElement) {
  const pts: any[] = [];
  const bg: string[] = [];
  C_ROWS.forEach((_, ri) => {
    C_GENES.forEach((__, gi) => {
      pts.push({ x: gi, y: ri, r: rC(C_PCT[ri][gi]) });
      bg.push(cmap(C_EXPR[ri][gi] / EXPR_MAX_C));
    });
  });
  return new Chart(canvas, {
    type: "bubble",
    data: { datasets: [{ data: pts, backgroundColor: bg, borderColor: "#1c1c1c", borderWidth: 1.2 }] },
    options: {
      responsive: false,
      animation: false,
      events: [],
      layout: { padding: { left: 0, right: 412, top: 57, bottom: 0 } },
      plugins: { legend: { display: false }, tooltip: { enabled: false } },
      scales: {
        x: {
          type: "linear",
          min: -0.7,
          max: 8.7,
          afterBuildTicks: (s: any) => {
            s.ticks = C_GENES.map((_, i) => ({ value: i }));
          },
          afterFit: (s: any) => {
            s.height = 104;
          },
          grid: { drawOnChartArea: false, drawTicks: true, tickLength: 17, tickWidth: 3.5, tickColor: INK },
          border: { display: false },
          ticks: {
            autoSkip: false,
            minRotation: 43,
            maxRotation: 43,
            padding: 3,
            font: { family: FONT, size: 28 },
            color: INK,
            callback: (v: any) => C_GENES[v],
          },
        },
        y: {
          type: "linear",
          reverse: true,
          min: -0.55,
          max: 2.55,
          afterBuildTicks: (s: any) => {
            s.ticks = C_ROWS.map((_, i) => ({ value: i }));
          },
          afterFit: (s: any) => {
            s.width = 153;
          },
          grid: { drawOnChartArea: false, drawTicks: true, tickLength: 6, tickWidth: 4, tickColor: INK },
          border: { display: false },
          ticks: {
            autoSkip: false,
            padding: 3,
            font: { family: FONT, size: 30 },
            color: (c: any) => CLUSTER_COLORS[c.index],
            callback: (v: any) => C_ROWS[v],
          },
        },
      },
    } as any,
    plugins: [panelCPlugin],
  });
}

export default function App() {
  const aRef = useRef<HTMLCanvasElement>(null);
  const bRef = useRef<HTMLCanvasElement>(null);
  const cRef = useRef<HTMLCanvasElement>(null);

  useEffect(() => {
    document.body.style.margin = "0";
    const charts: any[] = [];
    if (aRef.current) charts.push(makeA(aRef.current));
    if (bRef.current) charts.push(makeB(bRef.current));
    if (cRef.current) charts.push(makeC(cRef.current));
    return () => {
      charts.forEach((c) => c.destroy());
    };
  }, []);

  return (
    <div style={{ position: "relative", width: 2011, height: 2031, overflow: "hidden", background: "#ffffff" }}>
      <canvas ref={aRef} width={900} height={2031} style={{ position: "absolute", left: 0, top: 0, width: 900, height: 2031 }} />
      <canvas ref={bRef} width={1111} height={1790} style={{ position: "absolute", left: 900, top: 0, width: 1111, height: 1790 }} />
      <canvas ref={cRef} width={1111} height={291} style={{ position: "absolute", left: 900, top: 1740, width: 1111, height: 291 }} />
    </div>
  );
}
